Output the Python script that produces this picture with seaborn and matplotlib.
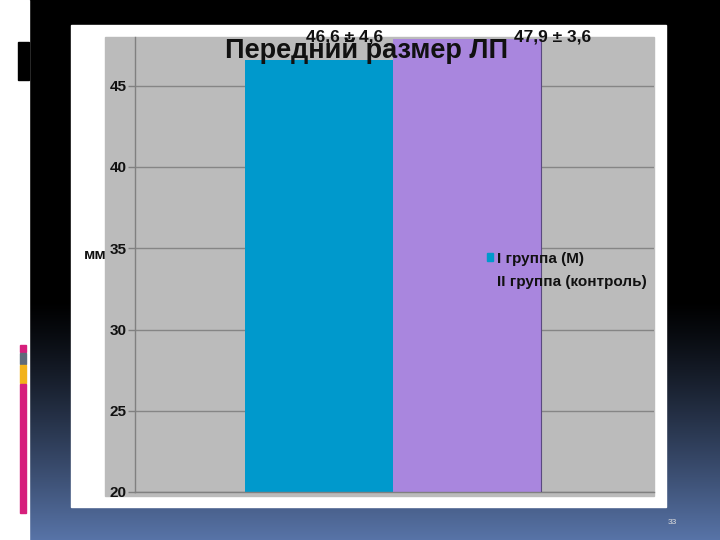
import numpy as np
import matplotlib
matplotlib.use("Agg")
import matplotlib.pyplot as plt
from matplotlib.patches import Rectangle, Patch
import seaborn as sns

# données
groups = ["I группа (М)", "II группа (контроль)"]
means = [46.6, 47.9]
sds = [4.6, 3.6]
bar_colors = ["#0099CC", "#A986DE"]
title = "Передний размер ЛП"
y_ticks = [20, 25, 30, 35, 40, 45]
y_unit = "мм"
page_num = "33"

sns.set_style("white")
plt.rcParams["font.family"] = ["Liberation Sans", "DejaVu Sans"]

W, H = 720, 540
fig = plt.figure(figsize=(7.2, 5.4), dpi=100)

# fond de la diapositive (coordonnées en pixels)
bg = fig.add_axes([0, 0, 1, 1], zorder=-1)
bg.set_xlim(0, W)
bg.set_ylim(H, 0)
bg.axis("off")
yy = np.arange(H)
t = np.clip((yy - 300) / 240, 0, 1) ** 1.2
bottom = np.array([88, 116, 168]) / 255
grad = (t[:, None] * bottom[None, :])[:, None, :].repeat(2, axis=1)
bg.imshow(grad, extent=(29, W, H, 0), aspect="auto", interpolation="bilinear")
bg.add_patch(Rectangle((0, 0), 29, H, color="white"))
bg.add_patch(Rectangle((18, 42), 11, 38, color="black"))
for y0, h, c in [(345, 7, "#D61F7C"), (353, 11, "#5F6B7A"), (365, 18, "#F2B21A"), (384, 129, "#D61F7C")]:
    bg.add_patch(Rectangle((20, y0), 6, h, color=c))
bg.add_patch(Rectangle((71, 25), 595, 482, color="white"))
bg.add_patch(Rectangle((105, 37), 549, 459, color="#BBBBBB"))

# graphique principal
ax = fig.add_axes([135 / W, 1 - 492 / H, 519 / W, 455 / H], zorder=1)
ax.set_facecolor("none")
sns.barplot(x=groups, y=means, hue=groups, palette=bar_colors, width=1, saturation=1,
            legend=False, ax=ax, zorder=2, linewidth=0)
ax.set_ylim(20, 48)
ax.set_xlim(-1.243, 2.264)
ax.set_xticks([])
ax.set_yticks(y_ticks)
ax.set_yticklabels([str(v) for v in y_ticks], fontsize=11, fontweight="bold", color="#111111")
ax.tick_params(axis="y", length=5, width=1, color="#808080", pad=1, left=True)
ax.yaxis.grid(True, color="#858585", linewidth=1)
ax.set_axisbelow(True)
ax.axvline(1.5, ymax=(47.9 - 20) / 28, color="#5a4a80", linewidth=0.8, zorder=3)
for s in ["top", "right"]:
    ax.spines[s].set_visible(False)
for s in ["left", "bottom"]:
    ax.spines[s].set_color("#808080")
    ax.spines[s].set_linewidth(1)
ax.set_ylabel(y_unit, rotation=0, fontsize=11, fontweight="bold", color="#111111")
ax.yaxis.set_label_coords(-0.077, 0.505)

# étiquettes des valeurs
label_x = [0.176, 1.58]
for xi, m, s in zip(label_x, means, sds):
    txt = f"{m:.1f} ± {s:.1f}".replace(".", ",")
    ax.text(xi, 47.7, txt, ha="center", va="baseline", fontsize=12.5,
            fontweight="bold", color="#111111", clip_on=False, zorder=5)

fig.text(367 / W, 1 - 57.5 / H, title, ha="center", va="baseline",
         fontsize=19.5, fontweight="bold", color="#111111", zorder=6)

# légende
handles = [Patch(color=bar_colors[0]), Patch(color="none")]
leg = ax.legend(handles, groups, loc="upper left", bbox_to_anchor=(479 / W, 1 - 244 / H),
                bbox_transform=fig.transFigure, frameon=False, borderpad=0,
                handlelength=0.4, handleheight=0.4, handletextpad=0.25,
                labelspacing=0.62, prop={"size": 11, "weight": "bold"})
for t_ in leg.get_texts():
    t_.set_color("#111111")

fig.text(672 / W, 1 - 522 / H, page_num, ha="center", va="center", fontsize=6, color="#dddddd")

fig.savefig("out.png", dpi=100)
